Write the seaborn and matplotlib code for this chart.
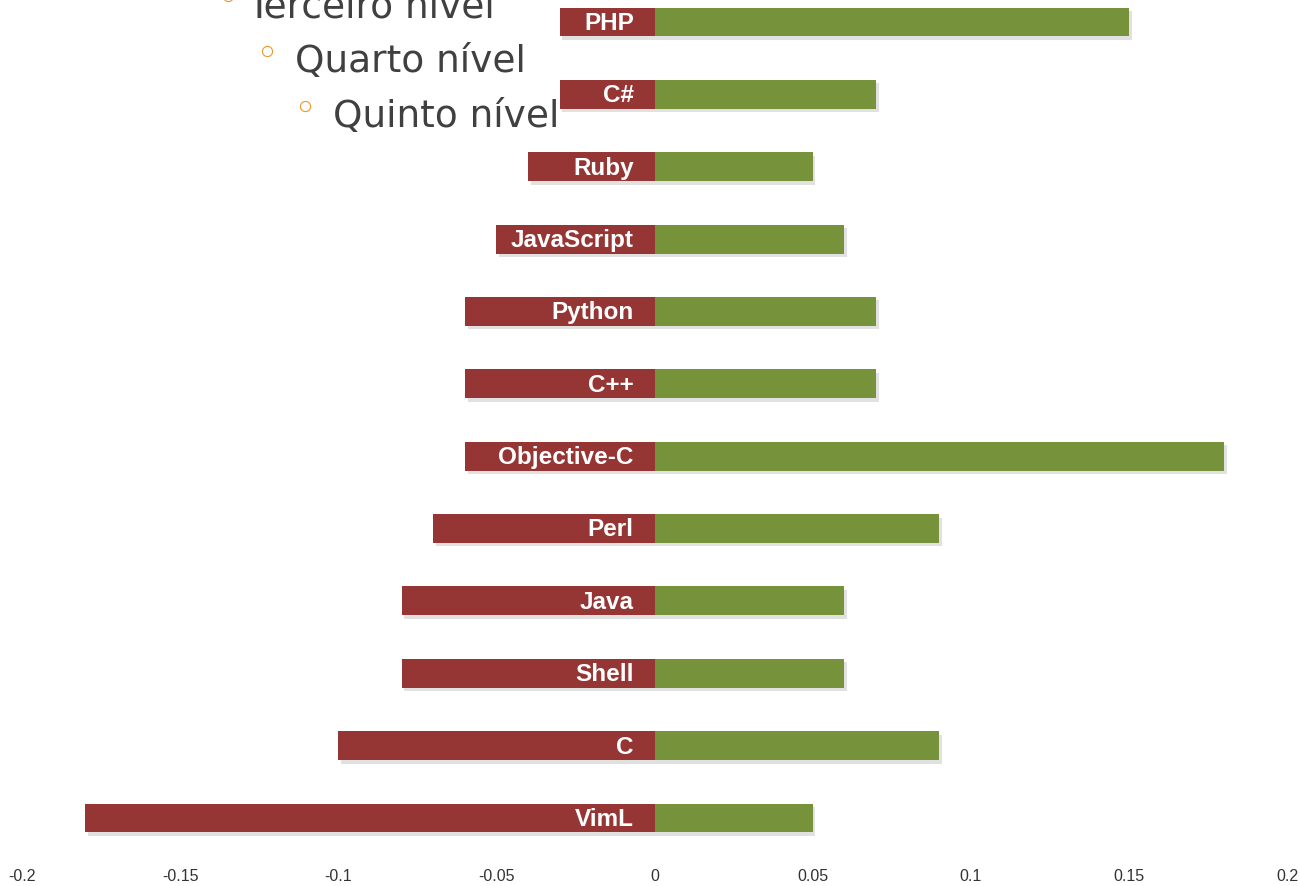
import matplotlib
matplotlib.use("Agg")
import matplotlib.pyplot as plt
import matplotlib.patheffects as pe
import seaborn as sns
import pandas as pd

# Languages, top to bottom
languages = ["PHP", "C#", "Ruby", "JavaScript", "Python", "C++",
             "Objective-C", "Perl", "Java", "Shell", "C", "VimL"]
negative = [-0.03, -0.03, -0.04, -0.05, -0.06, -0.06,
            -0.06, -0.07, -0.08, -0.08, -0.10, -0.18]
positive = [0.15, 0.07, 0.05, 0.06, 0.07, 0.07,
            0.18, 0.09, 0.06, 0.06, 0.09, 0.05]
xticks = [-0.2, -0.15, -0.1, -0.05, 0, 0.05, 0.1, 0.15, 0.2]
xtick_labels = ["-0.2", "-0.15", "-0.1", "-0.05", "0", "0.05", "0.1", "0.15", "0.2"]
outline_levels = ["Terceiro nível", "Quarto nível", "Quinto nível"]

RED = "#963634"
GREEN = "#76933C"

sns.set_theme(style="white")
plt.rcParams["font.family"] = ["DejaVu Sans"]

df = pd.DataFrame({"lang": languages, "neg": negative, "pos": positive})

fig = plt.figure(figsize=(13, 8.86), dpi=100)
W, H = 1300, 886
ax = fig.add_axes([22 / W, (H - 848) / H, (1287 - 22) / W, 848 / H])

shadow = [pe.SimplePatchShadow(offset=(2, -2.5), shadow_rgbFace="#888888", alpha=0.25),
          pe.Normal()]

sns.barplot(data=df, x="neg", y="lang", orient="h", color=RED, saturation=1,
            width=0.4, ax=ax, order=languages)
sns.barplot(data=df, x="pos", y="lang", orient="h", color=GREEN, saturation=1,
            width=0.4, ax=ax, order=languages)
for p in ax.patches:
    p.set_path_effects(shadow)
    p.set_linewidth(0)

for i, lang in enumerate(languages):
    ax.text(-0.0066, i + 0.02, lang, ha="right", va="center", color="white",
            fontsize=17.5, fontweight="bold",
            family=["Liberation Sans", "DejaVu Sans"], zorder=5)

ax.set_xlim(-0.2, 0.2)
ax.set_ylim(11 + 30 / 72.4, -22 / 72.4)
ax.set_xticks(xticks)
ax.set_xticklabels(xtick_labels, fontsize=11.5, color="#333333",
                   family=["Liberation Sans Narrow", "Liberation Sans", "DejaVu Sans"])
ax.tick_params(axis="x", length=0, pad=15)
ax.set_yticks([])
ax.set_xlabel("")
ax.set_ylabel("")
for s in ax.spines.values():
    s.set_visible(False)

# Slide outline levels overlaid on the chart
bullet_x = [228, 267, 305]
text_x = [247, 295, 333]
baselines = [17, 72, 127]
for label, bx, tx, by in zip(outline_levels, bullet_x, text_x, baselines):
    fig.text(tx / W, 1 - by / H, label, fontsize=27, color="#404040",
             ha="left", va="baseline", family="DejaVu Sans")
    fig.text(bx / W, 1 - (by - 17) / H, "◦", fontsize=28, color="#F0962E",
             ha="center", va="center", family="DejaVu Sans")

fig.savefig("out.png", dpi=100, facecolor="white")
